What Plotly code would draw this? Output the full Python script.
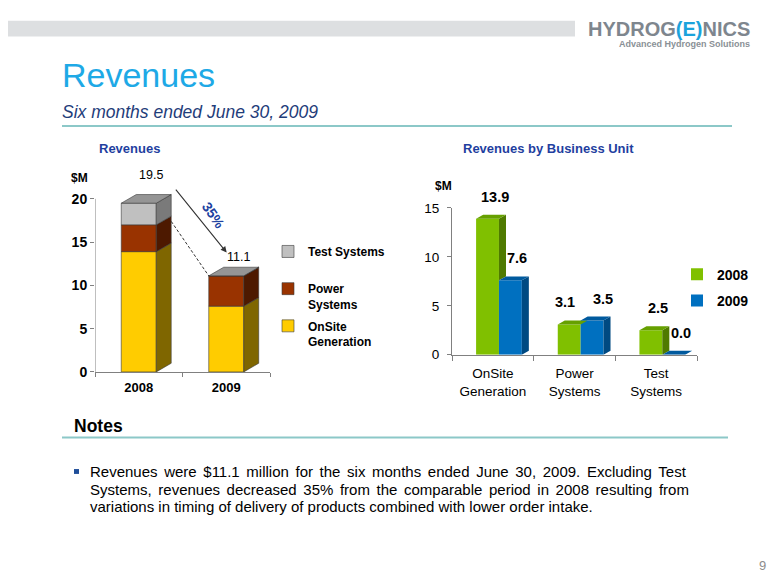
import plotly.graph_objects as go

# ---------------- data ----------------
years = ["2008", "2009"]
onsite = [13.9, 7.6]
power = [3.1, 3.5]
test_sys = [2.5, 0.0]
totals = [19.5, 11.1]
left_yticks = [0, 5, 10, 15, 20]

units = ["OnSite<br>Generation", "Power<br>Systems", "Test<br>Systems"]
rev_2008 = [13.9, 3.1, 2.5]
rev_2009 = [7.6, 3.5, 0.0]
right_yticks = [0, 5, 10, 15]
change_label = "35%"

note_lines = [
    "Revenues were $11.1 million for the six months ended June 30, 2009. Excluding Test",
    "Systems, revenues decreased 35% from the comparable period in 2008 resulting from",
    "variations in timing of delivery of products combined with lower order intake.",
]

# ---------------- helpers ----------------
W, H = 780, 585
OX, OY = 8, 8          # page body margin of the exported html
def px(x):
    return (x - OX) / W
def py(y):
    return 1 - (y - OY) / H

FONT = "Liberation Sans, Arial, sans-serif"
EDGE = "#3a3a3a"

fig = go.Figure()

# ---------------- left chart (stacked 3D-look bars) ----------------
LBW, LDX, LDY = 0.4, 0.171, 1.0
xl = list(range(len(years)))
series_left = [
    ("OnSite<br>Generation", onsite, "#FFCC00", "#7F6600", "#B38F00"),
    ("Power<br>Systems", power, "#993300", "#4D1900", "#6B2400"),
    ("Test Systems<br> ", test_sys, "#C0C0C0", "#7A7A7A", "#959595"),
]
base = [0.0] * len(years)
for i, (name, vals, cf, cs, ct) in enumerate(series_left):
    tops = [b + v for b, v in zip(base, vals)]
    fig.add_trace(go.Bar(
        x=xl, y=vals, base=base, width=LBW, name=name,
        marker=dict(color=cf, line=dict(color=EDGE, width=0.6)),
        xaxis="x", yaxis="y", legend="legend", legendgroup=name,
        legendrank=len(series_left) - i, hoverinfo="skip"))
    sx, sy = [], []
    for c, b, t in zip(xl, base, tops):
        r = c + LBW / 2
        sx += [r, r + LDX, r + LDX, r, r, None]
        sy += [b, b + LDY, t + LDY, t, b, None]
    fig.add_trace(go.Scatter(
        x=sx, y=sy, fill="toself", fillcolor=cs, mode="lines",
        line=dict(color=EDGE, width=0.6), showlegend=False,
        hoverinfo="skip", xaxis="x", yaxis="y"))
    if i == len(series_left) - 1:
        tx, ty = [], []
        for c, t in zip(xl, tops):
            l, r = c - LBW / 2, c + LBW / 2
            tx += [l, l + LDX, r + LDX, r, l, None]
            ty += [t, t + LDY, t + LDY, t, t, None]
        fig.add_trace(go.Scatter(
            x=tx, y=ty, fill="toself", fillcolor=ct, mode="lines",
            line=dict(color=EDGE, width=0.6), showlegend=False,
            hoverinfo="skip", xaxis="x", yaxis="y"))
    base = tops

# ---------------- right chart (clustered 3D-look bars) ----------------
RBW, RDX, RDY, RSHIFT = 0.28, 0.086, 0.4, 0.075
xr = list(range(len(units)))
series_right = [
    ("2008", rev_2008, rev_2009, "#80C000", "#4F7A00", "#66A000", -1, [0, -11, 0]),
    ("2009", rev_2009, None, "#0070C0", "#004A82", "#005A9E", 1, [0, 4, 0]),
]
annotations = []
for name, vals, hide_by, cf, cs, ct, side, lshift in series_right:
    xc = [c + RSHIFT + side * RBW / 2 for c in xr]
    fig.add_trace(go.Bar(
        x=xc, y=vals, width=RBW, name=name,
        marker=dict(color=cf, line=dict(color=cf, width=0)),
        xaxis="x2", yaxis="y2", legend="legend2", legendgroup="r" + name,
        hoverinfo="skip"))
    sx, sy, tx, ty = [], [], [], []
    for k, (c, v) in enumerate(zip(xc, vals)):
        l, r = c - RBW / 2, c + RBW / 2
        # side face: only the part not hidden by the neighbouring bar
        b = hide_by[k] if hide_by is not None else 0.0
        if v > b:
            sx += [r, r + RDX, r + RDX, r, r, None]
            sy += [b, b + RDY, v + RDY, v, b, None]
        tx += [l, l + RDX, r + RDX, r, l, None]
        ty += [v, v + RDY, v + RDY, v, v, None]
        annotations.append(dict(
            x=c + RDX, y=v + RDY, xref="x2", yref="y2",
            text="<b>%.1f</b>" % v, showarrow=False, yshift=18,
            xshift=lshift[k],
            font=dict(family=FONT, size=14.5, color="#000000")))
    fig.add_trace(go.Scatter(
        x=sx, y=sy, fill="toself", fillcolor=cs, mode="none",
        showlegend=False, hoverinfo="skip", xaxis="x2", yaxis="y2"))
    fig.add_trace(go.Scatter(
        x=tx, y=ty, fill="toself", fillcolor=ct, mode="none",
        showlegend=False, hoverinfo="skip", xaxis="x2", yaxis="y2"))

# ---------------- left chart annotations ----------------
total_shifts = [11, 1]
for c, t, s in zip(xl, totals, total_shifts):
    annotations.append(dict(
        x=c + LDX * 0.85, y=t + LDY, xref="x", yref="y", text="%.1f" % t,
        showarrow=False, yshift=s, yanchor="bottom",
        font=dict(family=FONT, size=12.5, color="#000000")))

# solid arrow from 2008 total to 2009 total
annotations.append(dict(
    x=xl[1] + 0.005, y=totals[1] + 2.7, xref="x", yref="y",
    ax=xl[0] + 0.41, ay=totals[0] + 1.75, axref="x", ayref="y",
    text="", showarrow=True, arrowhead=2, arrowsize=1.1, arrowwidth=1.1,
    arrowcolor="#333333"))
annotations.append(dict(
    x=xl[0] + 0.85, y=(onsite[0] + power[0]) + 1.1, xref="x", yref="y",
    text="<b>" + change_label + "</b>", showarrow=False, textangle=55,
    font=dict(family=FONT, size=14, color="#2041A0")))

# ---------------- slide text ----------------
def txt(x, y, text, size, color="#000000", xanchor="left", **kw):
    d = dict(x=px(x), y=py(y), xref="paper", yref="paper", text=text,
             showarrow=False, xanchor=xanchor, yanchor="middle",
             font=dict(family=FONT, size=size, color=color))
    d.update(kw)
    annotations.append(d)

txt(752, 22, "<b>HYDROG<span style='color:#1BA3DC'>(E)</span>NICS</b>", 20,
    "#7E868E", xanchor="right")
txt(752, 38, "<b>Advanced Hydrogen Solutions</b>", 9, "#8A9096",
    xanchor="right")
txt(60, 70, "Revenues", 34, "#1EA9E6")
txt(60, 108, "<i>Six months ended June 30, 2009</i>", 17.5, "#1F3D7A")
txt(129, 145, "<b>Revenues</b>", 13, "#1F3F9F", xanchor="center")
txt(548, 145, "<b>Revenues by Business Unit</b>", 13, "#1F3F9F",
    xanchor="center")
txt(79, 175, "<b>$M</b>", 12, xanchor="center")
txt(443, 183, "<b>$M</b>", 12, xanchor="center")
txt(72, 430, "<b>Notes</b>", 17.5)
word_spacing = [2.45, 2.45, 0]
for k, line in enumerate(note_lines):
    txt(88, 477 + 17.5 * k,
        "<span style='word-spacing:%.2fpx'>%s</span>" % (word_spacing[k], line),
        15)
txt(762, 573, "9", 13, "#8C8C8C", xanchor="center")

shapes = [
    dict(type="rect", xref="paper", yref="paper", x0=px(0), x1=px(575),
         y0=py(30), y1=py(14), fillcolor="#DDDFE1", line=dict(width=0),
         layer="below"),
    dict(type="line", xref="paper", yref="paper", x0=px(62), x1=px(732),
         y0=py(122), y1=py(122), line=dict(color="#8CC8C8", width=2)),
    dict(type="line", xref="paper", yref="paper", x0=px(62), x1=px(728),
         y0=py(441.5), y1=py(441.5), line=dict(color="#8CC8C8", width=2)),
    dict(type="rect", xref="paper", yref="paper", x0=px(74), x1=px(79),
         y0=py(479), y1=py(474), fillcolor="#1F4E99", line=dict(width=0)),
    # left y axis line (0..20)
    dict(type="line", xref="x", yref="y", x0=-0.5, x1=-0.5,
         y0=left_yticks[0], y1=left_yticks[-1],
         line=dict(color="#808080", width=1)),
    # dashed guide: 2008 excluding Test Systems -> 2009
    dict(type="line", xref="x", yref="y",
         x0=xl[0] + LBW / 2 + LDX, y0=onsite[0] + power[0] + LDY * 0.4,
         x1=xl[1] - LBW / 2, y1=totals[1],
         line=dict(color="#333333", width=1, dash="3px,2px")),
]

fig.update_layout(
    width=W, height=H, margin=dict(l=0, r=0, t=0, b=0),
    paper_bgcolor="white", plot_bgcolor="white",
    barmode="overlay", showlegend=True,
    font=dict(family=FONT, color="#000000"),
    xaxis=dict(domain=[px(95), px(270)], range=[-0.5, 1.5],
               tickvals=xl, ticktext=["<b>%s</b>" % y for y in years],
               ticks="", showgrid=False, zeroline=False,
               showline=True, linecolor="#808080", linewidth=1,
               ticklabelstandoff=3,
               tickfont=dict(family=FONT, size=13, color="#000000"),
               minor=dict(tickmode="array", tickvals=[-0.5, 0.5, 1.5],
                          ticks="outside", ticklen=4, tickcolor="#808080"),
               fixedrange=True),
    yaxis=dict(domain=[py(374.3), py(374.3 - 21 * 8.88)], range=[0, 21],
               tickvals=left_yticks,
               ticktext=["<b>%d</b>" % v for v in left_yticks],
               ticks="outside", ticklen=4, tickcolor="#808080",
               showgrid=False, zeroline=False, showline=False,
               tickfont=dict(family=FONT, size=14, color="#000000"),
               fixedrange=True),
    xaxis2=dict(domain=[px(452), px(697)], range=[-0.5, 2.5],
                tickvals=xr, ticktext=units, ticks="",
                showgrid=False, zeroline=False, showline=True,
                linecolor="#808080", linewidth=1, anchor="y2",
                ticklabelstandoff=6,
                tickfont=dict(family=FONT, size=13.5, color="#000000"),
                minor=dict(tickmode="array", tickvals=[-0.5, 0.5, 1.5, 2.5],
                           ticks="outside", ticklen=5, tickcolor="#808080"),
                fixedrange=True),
    yaxis2=dict(domain=[py(356.7), py(206)], range=[0, 15],
                tickvals=right_yticks, ticks="outside", ticklen=4,
                tickcolor="#808080", showgrid=False, zeroline=False,
                showline=True, linecolor="#808080", linewidth=1,
                anchor="x2", ticklabelstandoff=5,
                tickfont=dict(family=FONT, size=13.5, color="#000000"),
                fixedrange=True),
    legend=dict(x=px(268), y=py(236), xanchor="left", yanchor="top",
                traceorder="grouped", tracegroupgap=3, valign="top",
                bgcolor="rgba(0,0,0,0)",
                font=dict(family=FONT, size=12, color="#000000",
                          weight="bold")),
    legend2=dict(x=px(677), y=py(258), xanchor="left", yanchor="top",
                 traceorder="grouped", tracegroupgap=5,
                 bgcolor="rgba(0,0,0,0)",
                 font=dict(family=FONT, size=14, color="#000000",
                           weight="bold")),
    annotations=annotations, shapes=shapes,
)

fig.write_html("out.html")
